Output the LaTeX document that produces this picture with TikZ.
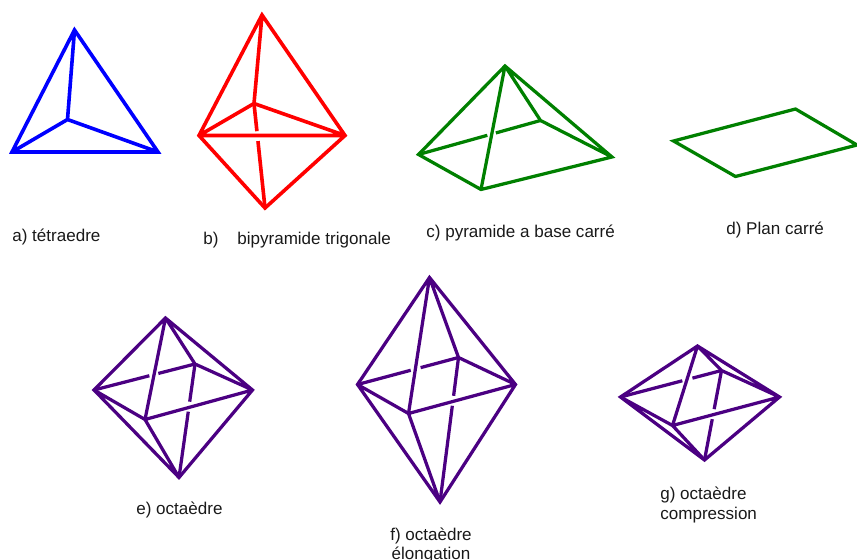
\documentclass[tikz,border=0pt]{standalone}
\usepackage{fontspec}
\setmainfont{Liberation Sans}
\usetikzlibrary{calc}
\definecolor{octa}{HTML}{4B0082}
\definecolor{pyra}{HTML}{008000}
\begin{document}
\begin{tikzpicture}[x=0.02cm,y=-0.02cm,
  edge/.style={line width=2.05pt},
  thinedge/.style={line width=1.85pt},
  lab/.style={font=\fontsize{9.7}{11.2}\selectfont,inner sep=0pt,text=black!90}]
\useasboundingbox (0,0) rectangle (857,560);
% tetraedre
\coordinate (aT) at (74.5,30); \coordinate (aL) at (12,152); \coordinate (aR) at (158,152); \coordinate (aC) at (67.5,119.5);
\draw[edge,blue] (aT) -- (aL) -- (aR) -- cycle (aT) -- (aC) (aL) -- (aC) -- (aR);
\node[lab,anchor=west] (labA) at (12,236.5) {a) tétraedre};
% bipyramide
\coordinate (bT) at (262,15); \coordinate (bL) at (199,135.5); \coordinate (bR) at (345,135.5); \coordinate (bB) at (265,208); \coordinate (bC) at (254,103.5);
\draw[edge,red] (bT) -- (bL) -- (bB) -- (bR) -- cycle (bL) -- (bR) (bT) -- (bC) (bL) -- (bC) -- (bR);
\draw[edge,red] (bC) -- ($(bC)!0.265!(bB)$) ($(bC)!0.36!(bB)$) -- (bB);
\node[lab,anchor=west] (labB) at (203,240) {b)};
\node[lab,anchor=west] (labBb) at (237,240) {bipyramide trigonale};
% pyramide
\coordinate (cT) at (505,66); \coordinate (cL) at (418.5,154.5); \coordinate (cR) at (612,157); \coordinate (cF) at (481,189.5); \coordinate (cK) at (540.5,120.5);
\draw[thinedge,pyra] (cT) -- (cL) -- (cF) -- (cR) -- cycle (cT) -- (cF) (cT) -- (cK) -- (cR);
\draw[thinedge,pyra] (cL) -- ($(cL)!0.564!(cK)$) ($(cL)!0.634!(cK)$) -- (cK);
\node[lab,anchor=west] (labC) at (426,233) {c) pyramide a base carré};
% plan
\coordinate (dL) at (673.5,141); \coordinate (dK) at (795.5,109); \coordinate (dR) at (857,145); \coordinate (dF) at (735.5,176.5);
\draw[thinedge,pyra] (dL) -- (dK) -- (dR) -- (dF) -- cycle;
\node[lab,anchor=west] (labD) at (726,230) {d) Plan carré};
% octaedres
\foreach \n/\tx/\ty/\lx/\ly/\rx/\bx/\by/\fx/\fy/\kx/\ky/\ga/\gb/\ha/\hb in {
  e/165.5/318/94/390/252.5/179/477.5/145/419.5/195/364/0.548/0.637/0.332/0.42,
  f/429.5/277.5/357.5/384.5/515.5/440/502/408.5/413.5/458.5/357.5/0.527/0.625/0.265/0.334,
  g/697.5/346/620.5/397/779.5/704.5/460/672.5/425.5/721.5/370.5/0.612/0.712/0.432/0.544} {
  \coordinate (\n T) at (\tx,\ty); \coordinate (\n L) at (\lx,\ly); \coordinate (\n R) at (\rx,\ly);
  \coordinate (\n B) at (\bx,\by); \coordinate (\n F) at (\fx,\fy); \coordinate (\n K) at (\kx,\ky);
  \draw[thinedge,octa] (\n T) -- (\n L) -- (\n B) -- (\n R) -- cycle (\n T) -- (\n F) (\n L) -- (\n F) -- (\n R)
    (\n T) -- (\n K) -- (\n R) (\n F) -- (\n B);
  \draw[thinedge,octa] (\n L) -- ($(\n L)!\ga!(\n K)$) ($(\n L)!\gb!(\n K)$) -- (\n K);
  \draw[thinedge,octa] (\n K) -- ($(\n K)!\ha!(\n B)$) ($(\n K)!\hb!(\n B)$) -- (\n B);
}
\node[lab,anchor=west] (labE) at (136,510) {e) octaèdre};
\node[lab,align=center] (labF) at (431,545.5) {f) octaèdre\\élongation};
\node[lab,align=left,anchor=west] (labG) at (660,505) {g) octaèdre\\compression};
\end{tikzpicture}
\end{document}
